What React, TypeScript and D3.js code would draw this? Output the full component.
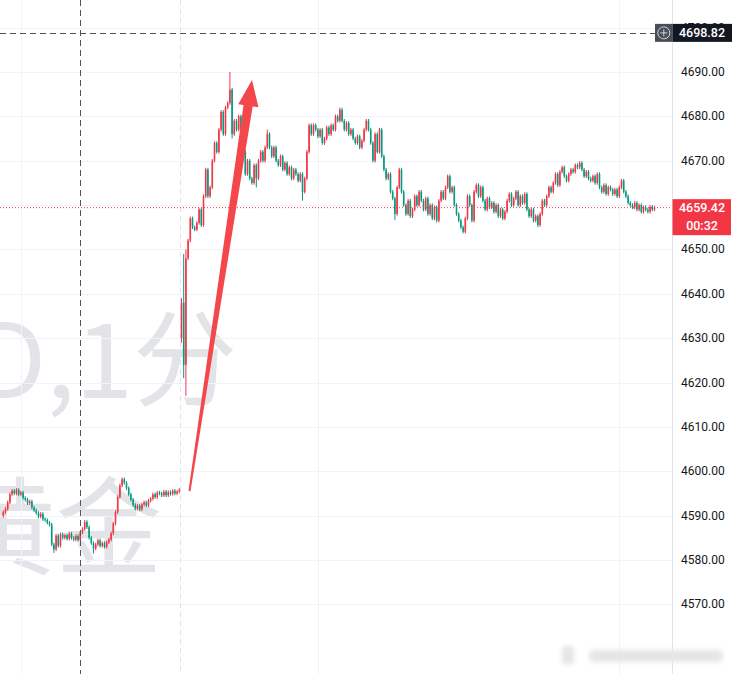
import React from "react";
import * as d3 from "d3";

const W = 735;
const H = 674;

// price axis ticks (4660 is hidden behind the last-price label, as in the reference)
const priceTicks = [4570, 4580, 4590, 4600, 4610, 4620, 4630, 4640, 4650, 4660, 4670, 4680, 4690, 4700];
const hiddenTickLabels = [4660];

// pre-session 1-minute closes
const preOpen = 4590.0;
const preCloses = [
  4590.8, 4591.5, 4593.0, 4594.8, 4595.6, 4595.0, 4595.8, 4594.8, 4595.2, 4594.0,
  4593.6, 4592.8, 4593.2, 4591.8, 4591.2, 4590.6, 4589.8, 4590.4, 4589.2, 4589.0,
  4588.4, 4588.0, 4583.5, 4582.4, 4585.5, 4583.2, 4585.8, 4585.0, 4585.6, 4584.8,
  4585.9, 4585.0, 4584.6, 4585.4, 4584.5, 4586.2, 4587.0, 4588.6, 4587.4, 4585.0,
  4583.8, 4582.6, 4583.5, 4584.4, 4583.2, 4583.8, 4583.0, 4584.0, 4584.6, 4586.0,
  4588.2, 4590.8, 4594.2, 4596.8, 4598.2, 4597.4, 4596.2, 4594.8, 4593.6, 4592.4,
  4591.6, 4592.2, 4591.4, 4592.5, 4593.0, 4592.3, 4593.4, 4593.8, 4594.8, 4594.2,
  4595.2, 4595.0, 4594.6, 4595.4, 4594.6, 4595.3, 4594.9, 4595.6, 4595.0, 4595.4,
  4595.8,
];

// session 1-minute closes
const sessionOpen = 4630.0;
const sessionCloses = [
  4638, 4624, 4648, 4652, 4657, 4655, 4654.5, 4656, 4659, 4655.5,
  4662, 4668, 4662, 4664, 4670, 4674, 4672, 4677, 4681, 4676,
  4682, 4683, 4686, 4676, 4679, 4677, 4680, 4676, 4672, 4667,
  4670, 4666, 4665, 4669, 4666, 4670, 4672, 4670, 4673, 4676,
  4673, 4671, 4673, 4670, 4669, 4671, 4668, 4669.5, 4667, 4668.5,
  4666, 4668, 4667, 4665.5, 4667, 4663, 4666, 4672, 4678, 4676,
  4678, 4677, 4675.5, 4677, 4674, 4675, 4677.5, 4676, 4678, 4677,
  4680, 4679, 4681.5, 4679, 4677, 4678.5, 4676, 4677, 4675, 4674,
  4675.5, 4673, 4674.5, 4677, 4679, 4677, 4674, 4670, 4676, 4672,
  4677, 4671, 4668, 4666, 4667, 4663, 4661.5, 4658, 4664, 4668,
  4663, 4660, 4658, 4661, 4657.5, 4659, 4662, 4660, 4663, 4661,
  4659, 4661.5, 4658, 4660, 4657, 4659.5, 4656.5, 4661, 4663, 4661.5,
  4664, 4666.5, 4663, 4664, 4660, 4658, 4656.5, 4655, 4654, 4657,
  4662, 4660, 4656.5, 4663, 4664.5, 4662, 4664, 4661, 4659, 4661.5,
  4659.5, 4660.5, 4658.5, 4660, 4657.5, 4659, 4657, 4658.5, 4661, 4662.5,
  4660, 4661.5, 4663, 4660, 4662, 4660.5, 4662.5, 4659, 4657.5, 4659,
  4656.5, 4657.5, 4655.5, 4658, 4661, 4660, 4662, 4664, 4663, 4665,
  4667, 4664.5, 4667.5, 4668.5, 4666.5, 4665.5, 4667, 4668, 4667.5, 4669,
  4668.5, 4669.5, 4668, 4666.5, 4667.5, 4666, 4665.5, 4666.5, 4665, 4667,
  4664, 4663, 4664.5, 4662.5, 4664, 4663.5, 4662.5, 4663.5, 4662, 4664,
  4665.5, 4663, 4662, 4660.5, 4660, 4659.5, 4660.5, 4659, 4660, 4658.5,
  4659.5, 4659, 4658.5, 4659.6, 4659, 4659.42,
];

// notable wick extremes: [overall candle index, price]
const wickHighs: [number, number][] = [
  [54, 4598.5], [81, 4639], [82, 4649], [83, 4650], [103, 4690], [120, 4677], [153, 4682],
];
const wickLows: [number, number][] = [
  [23, 4581.6], [41, 4581.5], [81, 4629], [82, 4621], [83, 4617], [104, 4675],
  [115, 4664], [136, 4661], [178, 4656.6], [209, 4653.7], [243, 4655],
];

const gridCandleIdx = [8, 143, 280];
const crosshairIdx = 35;
const crosshairPrice = 4698.82;
const lastPrice = 4659.42;
const countdown = "00:32";

const RED = "#f23645";
const GREEN = "#089981";

type Candle = { i: number; o: number; h: number; l: number; c: number };

function buildCandles(): Candle[] {
  const out: Candle[] = [];
  preCloses.forEach((c, k) => {
    const o = k === 0 ? preOpen : preCloses[k - 1];
    out.push({ i: out.length, o, c, h: Math.max(o, c) + 0.4, l: Math.min(o, c) - 0.4 });
  });
  sessionCloses.forEach((c, k) => {
    const o = k === 0 ? sessionOpen : sessionCloses[k - 1];
    out.push({ i: out.length, o, c, h: Math.max(o, c) + 0.4, l: Math.min(o, c) - 0.4 });
  });
  wickHighs.forEach(([i, v]) => { if (out[i]) out[i].h = Math.max(out[i].h, v); });
  wickLows.forEach(([i, v]) => { if (out[i]) out[i].l = Math.min(out[i].l, v); });
  return out;
}

export default function App() {
  const candles = buildCandles();
  const n = candles.length;
  const plotRight = 672.5;
  const x = d3.scaleLinear().domain([0, n - 1]).range([3.3, 3.3 + (n - 1) * 2.2]);
  const y = d3.scaleLinear().domain([4580, 4690]).range([560, 72]);
  const breakX = (x(preCloses.length - 1) + x(preCloses.length)) / 2;

  const chY = y(crosshairPrice);
  const lpY = y(lastPrice);

  // arrow geometry (annotation)
  const ax0 = 189.5, ay0 = 491, ax1 = 252, ay1 = 80;
  const len = Math.hypot(ax1 - ax0, ay1 - ay0);
  const ux = (ax1 - ax0) / len, uy = (ay1 - ay0) / len;
  const px = -uy, py = ux;
  const baseC = [ax1 - ux * 26, ay1 - uy * 26];
  const pt = (cx: number, cy: number, w: number) => `${cx + px * w},${cy + py * w}`;
  const arrowPts = [
    pt(ax0, ay0, 1),
    pt(baseC[0], baseC[1], 4.6),
    pt(baseC[0], baseC[1], 10.5),
    `${ax1},${ay1}`,
    pt(baseC[0], baseC[1], -10),
    pt(baseC[0], baseC[1], -4.6),
    pt(ax0, ay0, -1),
  ].join(" ");

  const font = "Roboto, 'Noto Sans', sans-serif";

  return (
    <svg width={W} height={H} viewBox={`0 0 ${W} ${H}`}
      style={{ position: "absolute", left: 0, top: 0, background: "#fff" }}>
      <defs>
        <filter id="blur" x="-20%" y="-50%" width="140%" height="200%">
          <feGaussianBlur stdDeviation="2.2" />
        </filter>
        <clipPath id="plot">
          <rect x={0} y={0} width={plotRight} height={H} />
        </clipPath>
      </defs>
      <rect x={0} y={0} width={W} height={H} fill="#fff" />

      {/* watermark */}
      <g clipPath="url(#plot)" fill="#e3e4e8" fontFamily="'Noto Sans CJK SC', sans-serif">
        <text x={237} y={398} fontSize={104} textAnchor="end">XAUUSD,1分</text>
        <text x={162} y={566} fontSize={106} textAnchor="end">黄金</text>
      </g>

      {/* grid */}
      <g stroke="#f0f3fa" strokeWidth={1}>
        {priceTicks.map((p) => (
          <line key={p} x1={0} x2={plotRight} y1={Math.round(y(p)) + 0.5} y2={Math.round(y(p)) + 0.5} />
        ))}
        {gridCandleIdx.map((i) => (
          <line key={i} x1={Math.round(x(i)) + 0.5} x2={Math.round(x(i)) + 0.5} y1={0} y2={H} />
        ))}
      </g>
      <line x1={Math.round(breakX) + 0.5} x2={Math.round(breakX) + 0.5} y1={0} y2={H}
        stroke="#dfe2ea" strokeDasharray="5 4" />

      {/* candles */}
      <g>
        {candles.map((d) => {
          const cx = x(d.i);
          const col = d.c >= d.o ? RED : GREEN;
          const top = y(Math.max(d.o, d.c));
          const bot = y(Math.min(d.o, d.c));
          return (
            <g key={d.i}>
              <line x1={cx} x2={cx} y1={y(d.h)} y2={y(d.l)} stroke={col} strokeWidth={1} />
              <rect x={cx - 0.8} y={top} width={1.6} height={Math.max(1, bot - top)} fill={col} />
            </g>
          );
        })}
      </g>

      {/* last price line */}
      <line x1={0} x2={plotRight} y1={lpY} y2={lpY} stroke={RED} strokeWidth={1} strokeDasharray="1 2" />

      {/* crosshair */}
      <line x1={Math.round(x(crosshairIdx)) + 0.5} x2={Math.round(x(crosshairIdx)) + 0.5} y1={0} y2={H}
        stroke="#50535e" strokeDasharray="6 4" />
      <line x1={0} x2={655} y1={Math.round(chY) + 0.5} y2={Math.round(chY) + 0.5}
        stroke="#50535e" strokeDasharray="6 4" />

      {/* arrow annotation */}
      <polygon points={arrowPts} fill="#f4474c" />

      {/* price axis */}
      <line x1={plotRight} x2={plotRight} y1={0} y2={H} stroke="#e0e3eb" />
      <g fontFamily={font} fontSize={12} fill="#131722">
        {priceTicks.filter((p) => !hiddenTickLabels.includes(p)).map((p) => (
          <text key={p} x={681} y={y(p) + 4}>{p.toFixed(2)}</text>
        ))}
      </g>

      {/* crosshair label */}
      <rect x={655} y={chY - 9} width={17.5} height={18} fill="#4a4e59" />
      <circle cx={663.8} cy={chY} r={6} fill="none" stroke="#d1d4dc" strokeWidth={1} />
      <line x1={660.3} x2={667.3} y1={chY} y2={chY} stroke="#d1d4dc" />
      <line x1={663.8} x2={663.8} y1={chY - 3.5} y2={chY + 3.5} stroke="#d1d4dc" />
      <rect x={672.5} y={chY - 9} width={59.5} height={18} fill="#131722" />
      <text x={702} y={chY + 4.5} fontFamily={font} fontSize={12.5} fontWeight={500} fill="#fff" textAnchor="middle">
        {crosshairPrice.toFixed(2)}
      </text>

      {/* last price label */}
      <rect x={672.5} y={lpY - 8.5} width={58.5} height={36} fill={RED} />
      <text x={702} y={lpY + 4.5} fontFamily={font} fontSize={12.5} fontWeight={500} fill="#fff" textAnchor="middle">
        {lastPrice.toFixed(2)}
      </text>
      <text x={702} y={lpY + 22.5} fontFamily={font} fontSize={12.5} fontWeight={500} fill="#fff" textAnchor="middle">
        {countdown}
      </text>

      {/* faint blurred footer watermark */}
      <g filter="url(#blur)" fill="#e6e6e6">
        <rect x={562} y={646} width={12} height={18} rx={2} />
        <rect x={590} y={650} width={132} height={12} />
      </g>
    </svg>
  );
}
